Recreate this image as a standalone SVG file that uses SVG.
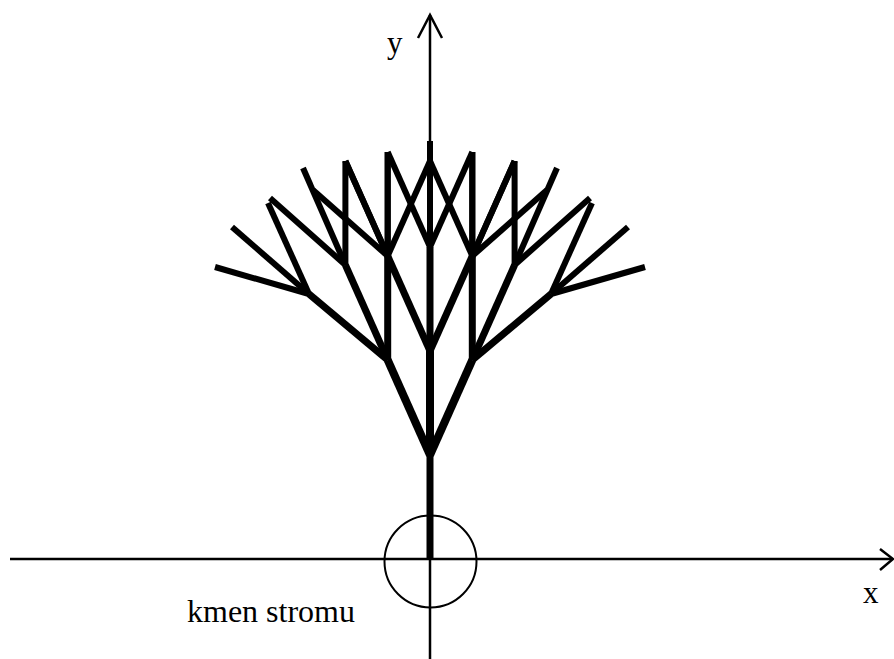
<svg xmlns="http://www.w3.org/2000/svg" width="894" height="659" viewBox="0 0 894 659">
  <style>
    .axis { stroke: #000; stroke-width: 2.5; fill: none; }
    .lbl { font-family: "Liberation Serif", "Times New Roman", serif; fill: #000; }
    .t0 { stroke: #000; stroke-width: 7; fill: none; stroke-linecap: butt; }
    .t1 { stroke: #000; stroke-width: 8; fill: none; stroke-linecap: butt; }
    .t2 { stroke: #000; stroke-width: 7; fill: none; stroke-linecap: butt; }
    .t3 { stroke: #000; stroke-width: 6; fill: none; stroke-linecap: butt; }
  </style>
  <rect width="894" height="659" fill="#fff"/>

  <g id="axes">
    <line class="axis" x1="10" y1="559" x2="892" y2="559"/>
    <polyline class="axis" points="880,549 893,559 880,570"/>
    <line class="axis" x1="430" y1="659" x2="430" y2="15" stroke-width="2"/>
    <polyline class="axis" points="418,38 430,15 442,38" stroke-width="2"/>
  </g>

  <g id="trunk-circle">
    <circle cx="430.5" cy="561.5" r="46" fill="none" stroke="#000" stroke-width="2"/>
  </g>

  <g id="tree">
    <!-- trunk -->
    <line class="t0" x1="430" y1="559" x2="430" y2="455"/>
    <!-- level 1 -->
    <line class="t1" x1="430" y1="455" x2="387.7" y2="360"/>
    <line class="t1" x1="430" y1="455" x2="430" y2="351"/>
    <line class="t1" x1="430" y1="455" x2="472.3" y2="360"/>
    <!-- level 2 -->
    <line class="t2" x1="387.7" y1="360" x2="309" y2="294"/>
    <line class="t2" x1="387.7" y1="360" x2="345.4" y2="265"/>
    <line class="t2" x1="387.7" y1="360" x2="387.7" y2="256"/>
    <line class="t2" x1="430" y1="351" x2="387.7" y2="256"/>
    <line class="t2" x1="430" y1="351" x2="430" y2="247"/>
    <line class="t2" x1="430" y1="351" x2="472.3" y2="256"/>
    <line class="t2" x1="472.3" y1="360" x2="472.3" y2="256"/>
    <line class="t2" x1="472.3" y1="360" x2="514.6" y2="265"/>
    <line class="t2" x1="472.3" y1="360" x2="551" y2="294"/>
    <!-- level 3 -->
    <line class="t3" x1="309" y1="294" x2="215" y2="267"/>
    <line class="t3" x1="309" y1="294" x2="232" y2="227"/>
    <line class="t3" x1="309" y1="294" x2="268" y2="203"/>
    <line class="t3" x1="345.4" y1="265" x2="270" y2="198"/>
    <line class="t3" x1="345.4" y1="265" x2="303" y2="168"/>
    <line class="t3" x1="345.4" y1="265" x2="345.4" y2="161"/>
    <line class="t3" x1="387.7" y1="256" x2="345.4" y2="161"/>
    <line class="t3" x1="387.7" y1="256" x2="387.7" y2="152"/>
    <line class="t3" x1="387.7" y1="256" x2="430" y2="161"/>
    <line class="t3" x1="387.7" y1="256" x2="313" y2="190"/>
    <line class="t3" x1="387.7" y1="256" x2="345.4" y2="161"/>
    <line class="t3" x1="387.7" y1="256" x2="387.7" y2="152"/>
    <line class="t3" x1="430" y1="247" x2="387.7" y2="152"/>
    <line class="t3" x1="430" y1="247" x2="430" y2="141"/>
    <line class="t3" x1="430" y1="247" x2="472.3" y2="152"/>
    <line class="t3" x1="472.3" y1="256" x2="472.3" y2="152"/>
    <line class="t3" x1="472.3" y1="256" x2="514.6" y2="161"/>
    <line class="t3" x1="472.3" y1="256" x2="547" y2="190"/>
    <line class="t3" x1="472.3" y1="256" x2="430" y2="161"/>
    <line class="t3" x1="472.3" y1="256" x2="472.3" y2="152"/>
    <line class="t3" x1="472.3" y1="256" x2="514.6" y2="161"/>
    <line class="t3" x1="514.6" y1="265" x2="514.6" y2="161"/>
    <line class="t3" x1="514.6" y1="265" x2="557" y2="168"/>
    <line class="t3" x1="514.6" y1="265" x2="590" y2="198"/>
    <line class="t3" x1="551" y1="294" x2="592" y2="203"/>
    <line class="t3" x1="551" y1="294" x2="628" y2="227"/>
    <line class="t3" x1="551" y1="294" x2="645" y2="267"/>
  </g>

  <g id="labels">
    <text class="lbl" x="387" y="53" font-size="31">y</text>
    <text class="lbl" x="863" y="603" font-size="31">x</text>
    <text class="lbl" x="187" y="622" font-size="32">kmen stromu</text>
  </g>
</svg>
